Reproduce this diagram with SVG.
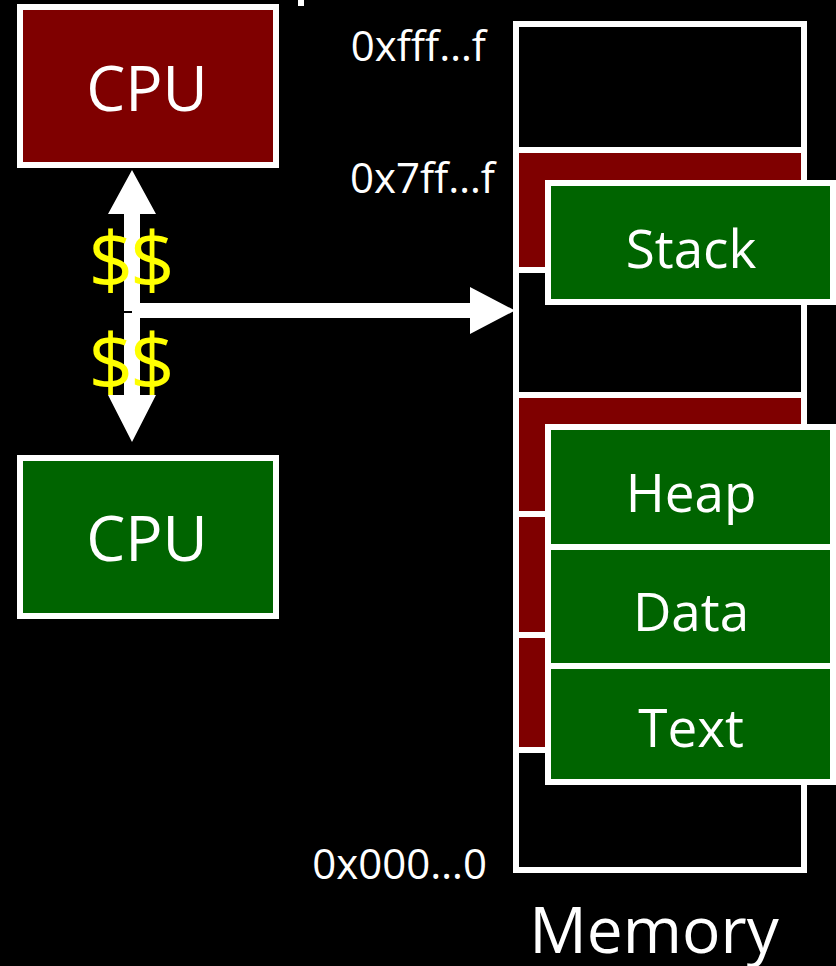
<svg xmlns="http://www.w3.org/2000/svg" width="836" height="966" viewBox="0 0 836 966">
<style>
.box{stroke:#fff;stroke-width:6}
.red{fill:#7f0000}
.grn{fill:#006400}
.lbl{fill:#fff;font-family:"Open Sans","Liberation Sans",sans-serif;text-anchor:middle}
.addr{fill:#fff;font-family:"Open Sans","Liberation Sans",sans-serif;font-size:42px;text-anchor:end}
.cash{fill:#ffff00;font-family:"Open Sans","Liberation Sans",sans-serif;font-size:78px;letter-spacing:-3px;text-anchor:middle}
</style>
<rect x="0" y="0" width="836" height="966" fill="#000"/>
<rect x="298" y="0" width="6" height="6" fill="#fff"/>
<g id="cpu1">
<rect class="box red" x="20" y="7" width="256" height="158"/>
<text class="lbl" x="147" y="111" font-size="62">CPU</text>
</g>
<g id="cpu2">
<rect class="box grn" x="20" y="458" width="256" height="158"/>
<text class="lbl" x="147" y="561" font-size="62">CPU</text>
</g>
<g id="memory">
<rect x="516" y="24" width="288" height="846" fill="none" stroke="#fff" stroke-width="6"/>
<rect class="box red" x="516" y="150" width="288" height="120"/>
<rect class="box red" x="516" y="395" width="288" height="119"/>
<rect class="box red" x="516" y="514" width="288" height="121"/>
<rect class="box red" x="516" y="635" width="288" height="115"/>
<text class="lbl" x="654" y="953" font-size="64">Memory</text>
<text class="addr" x="486" y="61">0xfff…f</text>
<text class="addr" x="495" y="193">0x7ff…f</text>
<text class="addr" x="487" y="879">0x000…0</text>
</g>
<g id="stack">
<rect class="box grn" x="548" y="183" width="285" height="119"/>
<text class="lbl" x="691" y="268" font-size="53">Stack</text>
</g>
<g id="heap">
<rect class="box grn" x="548" y="427" width="285" height="120"/>
<text class="lbl" x="691" y="512" font-size="53">Heap</text>
</g>
<g id="data">
<rect class="box grn" x="548" y="547" width="285" height="119"/>
<text class="lbl" x="691" y="631" font-size="53">Data</text>
</g>
<g id="textseg">
<rect class="box grn" x="548" y="666" width="285" height="116"/>
<text class="lbl" x="691" y="747" font-size="53">Text</text>
</g>
<g id="connectors" fill="#fff">
<polygon points="132,170 156,214 140,214 140,311 124,311 124,214 108,214"/>
<polygon points="124,313 140,313 140,395 156,395 132,442 108,395 124,395"/>
<polygon points="132,303 470,303 470,287 515,310.5 470,334 470,318 132,318"/>
</g>
<g id="cache">
<text class="cash" x="130" y="289">$$</text>
<text class="cash" x="130" y="391">$$</text>
</g>
</svg>
